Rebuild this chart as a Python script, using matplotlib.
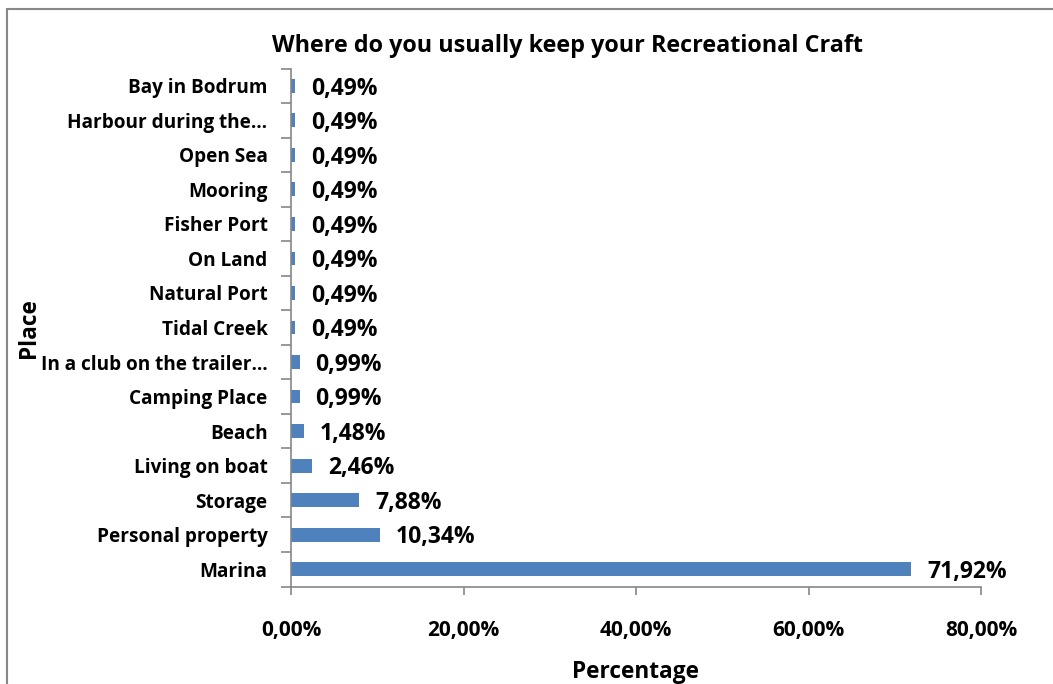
import matplotlib
matplotlib.use("Agg")
import matplotlib.pyplot as plt
from matplotlib.patches import Rectangle

categories = ["Marina", "Personal property", "Storage", "Living on boat", "Beach",
              "Camping Place", "In a club on the trailer…", "Tidal Creek", "Natural Port",
              "On Land", "Fisher Port", "Mooring", "Open Sea", "Harbour during the…",
              "Bay in Bodrum"]
values = [71.92, 10.34, 7.88, 2.46, 1.48, 0.99, 0.99, 0.49, 0.49, 0.49, 0.49, 0.49, 0.49, 0.49, 0.49]
value_labels = ["71,92%", "10,34%", "7,88%", "2,46%", "1,48%", "0,99%", "0,99%", "0,49%",
                "0,49%", "0,49%", "0,49%", "0,49%", "0,49%", "0,49%", "0,49%"]
xticks = [0, 20, 40, 60, 80]
xtick_labels = ["0,00%", "20,00%", "40,00%", "60,00%", "80,00%"]

plt.rcParams['font.family'] = ['Open Sans', 'DejaVu Sans']
plt.rcParams['font.weight'] = 'bold'

W, H = 1053, 684
fig = plt.figure(figsize=(W / 100, H / 100), dpi=100)
fig.patch.set_facecolor("white")

# outer border (top and left visible)
fig.patches.append(Rectangle((7 / W, 0 - 0.05), 1.2, (H - 9) / H + 0.05,
                             transform=fig.transFigure, fill=False,
                             edgecolor="#888888", linewidth=1.5))

ax = fig.add_axes([291 / W, 1 - 586.5 / H, (981 - 291) / W, (586.5 - 68.5) / H])
axis_color = "#868686"
y = list(range(len(categories)))
ax.barh(y, values, height=0.4, color="#4F81BD")
ax.set_xlim(0, 80)
ax.set_ylim(-0.5, len(categories) - 0.5)

ax.set_xticks(xticks)
ax.set_xticklabels(xtick_labels, fontsize=15.0, fontweight='bold')
ax.set_yticks(y)
ax.set_yticklabels(categories, fontsize=13.7, fontweight='bold')
ax.set_yticks([i - 0.5 for i in range(len(categories) + 1)], minor=True)
ax.tick_params(axis='y', which='major', length=0, pad=17)
ax.tick_params(axis='y', which='minor', length=7, color=axis_color, width=1.2, direction='out')
ax.tick_params(axis='x', which='major', length=6, color=axis_color, width=1.2, direction='out', pad=18)

for s in ["top", "right"]:
    ax.spines[s].set_visible(False)
for s in ["left", "bottom"]:
    ax.spines[s].set_color(axis_color)
    ax.spines[s].set_linewidth(1.2)

for yi, v, lab in zip(y, values, value_labels):
    ax.annotate(lab, (v, yi), xytext=(11.5, -2), textcoords="offset points",
                va="center", ha="left", fontsize=16.5, fontweight='bold')

fig.text(567 / W, 1 - 46 / H, "Where do you usually keep your Recreational Craft",
         ha="center", va="center", fontsize=16.8, fontweight='bold')
fig.text(635 / W, 1 - 672 / H, "Percentage", ha="center", va="center",
         fontsize=16.3, fontweight='bold')
fig.text(29 / W, 1 - 328 / H, "Place", ha="center", va="center", rotation=90,
         fontsize=16.3, fontweight='bold')

fig.savefig("out.png", dpi=100)
